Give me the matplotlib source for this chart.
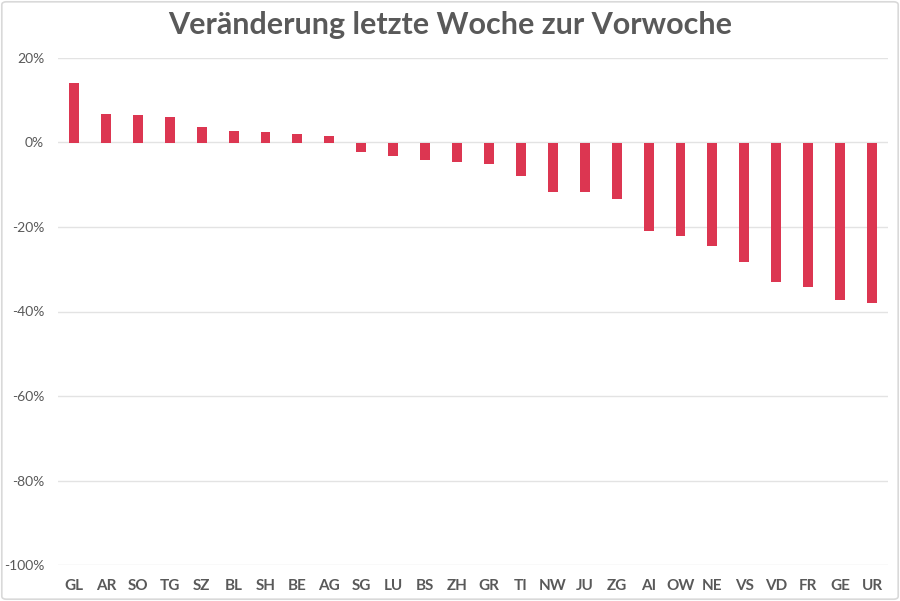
import matplotlib
matplotlib.use("Agg")
import matplotlib.pyplot as plt
from matplotlib.ticker import FuncFormatter, MultipleLocator
from matplotlib.patches import FancyBboxPatch

cantons = ["GL", "AR", "SO", "TG", "SZ", "BL", "SH", "BE", "AG", "SG", "LU", "BS", "ZH",
           "GR", "TI", "NW", "JU", "ZG", "AI", "OW", "NE", "VS", "VD", "FR", "GE", "UR"]
change = [0.140, 0.068, 0.065, 0.061, 0.036, 0.028, 0.026, 0.021, 0.015, -0.022, -0.032,
          -0.042, -0.046, -0.050, -0.080, -0.116, -0.118, -0.134, -0.210, -0.221, -0.246,
          -0.282, -0.330, -0.342, -0.372, -0.380]
title = "Veränderung letzte Woche zur Vorwoche"

plt.rcParams['font.family'] = ['Lato', 'DejaVu Sans']

fig = plt.figure(figsize=(9, 6.01), dpi=100)
ax = fig.add_axes([58/900, 1 - 565/601, (888-58)/900, (565-58)/601])

x = list(range(len(cantons)))
ax.bar(x, change, width=0.31, color="#DC3651", zorder=3)

ax.set_xlim(-0.5, len(cantons) - 0.5)
ax.set_ylim(-1.0, 0.2)
ax.yaxis.set_major_locator(MultipleLocator(0.2))
ax.yaxis.set_major_formatter(FuncFormatter(lambda v, p: f"{round(v*100):d}%"))
ax.grid(axis="y", color="#E3E3E3", linewidth=1, zorder=0)
ax.set_xticks(x)
ax.set_xticklabels(cantons, fontsize=11, fontweight="bold", color="#595959")
ax.tick_params(axis="y", labelsize=10, labelcolor="#595959", length=0, pad=10)
ax.tick_params(axis="x", length=0, pad=10)
for s in ax.spines.values():
    s.set_visible(False)

fig.text(0.5, 1 - 25/601, title, ha="center", va="center", fontsize=22,
         fontweight="bold", color="#595959")

border = FancyBboxPatch((0.002, 0.003), 0.996, 0.994, boxstyle="round,pad=0,rounding_size=0.005",
                        transform=fig.transFigure, fill=False, edgecolor="#D9D9D9", linewidth=1.2)
fig.patches.append(border)

fig.savefig("out.png", dpi=100)
